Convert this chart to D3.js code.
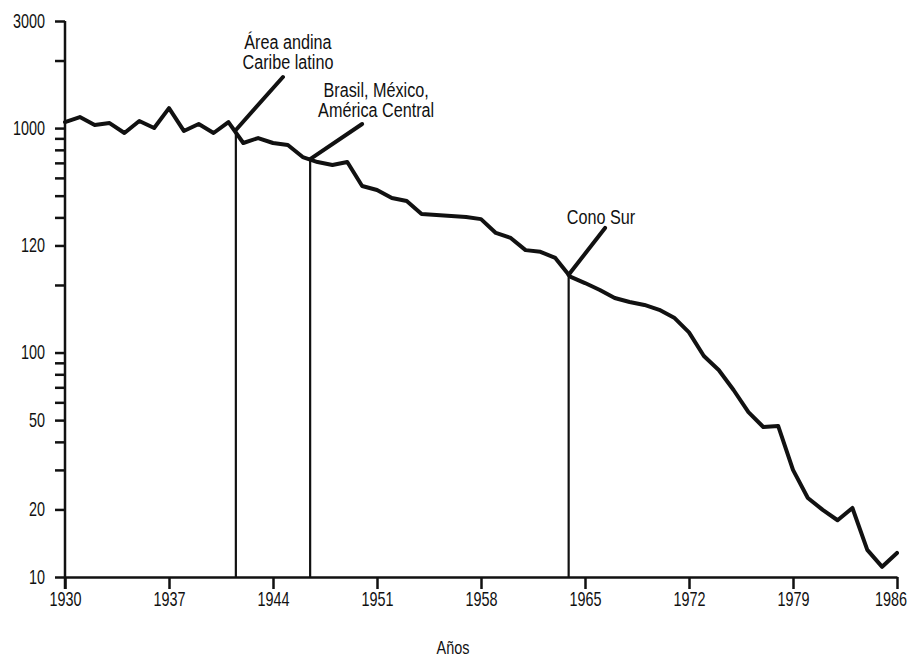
<!DOCTYPE html>
<html>

<head>
  <meta charset="utf8">
  <script src="https://d3js.org/d3.v7.min.js"></script>
  <style>
    body { margin: 0; background: #fff; }
    text {
      font-family: "Liberation Sans", Arial, sans-serif;
      fill: #111;
    }
  </style>
</head>

<body>
  <svg id="chart" width="909" height="661"></svg>

  <script>
    // years 1930..1986, one reading per year off the printed curve
    var years = d3.range(1930, 1987);
    var values = [
      1064, 1120, 1032, 1053, 951, 1075, 1001, 1228, 971, 1043,
      951, 1064, 858, 903, 858, 841, 743, 706, 685, 706,
      552, 530, 488, 473, 414, 410, 406, 402, 393, 341,
      324, 286, 281, 264, 218, 204, 190, 175, 168, 163,
      155, 143, 123, 96.5, 83.6, 68.1, 54.3, 46.6, 47.1, 30.0,
      22.5, 19.9, 17.9, 20.3, 13.2, 11.1, 12.8
    ];

    var xTicks = [1930, 1937, 1944, 1951, 1958, 1965, 1972, 1979, 1986];
    var yTicks = [10, 20, 50, 100, 300, 1000, 3000];
    var yTickLabels = ['10', '20', '50', '100', '120', '1000', '3000'];
    var yMinorTicks = [30, 40, 60, 70, 80, 90, 200, 400, 500, 600, 700, 800, 900, 2000];

    // annotations: year of the drop line, value where it meets the curve,
    // end of the leader line (year, value) and the label lines
    var noteYears = [1941.5, 1946.5, 1963.9];
    var noteValues = [981, 728, 222];
    var leaderYears = [1944.67, 1950.0, 1966.35];
    var leaderValues = [1689, 1043, 359];
    var noteLabels = [
      ['Área andina', 'Caribe latino'],
      ['Brasil,  México,', 'América Central'],
      ['Cono Sur']
    ];

    var chart = d3.select('#chart');
    var left = 65, right = 897, plotTop = 21, plotBottom = 577;

    var x = d3.scaleLinear().domain([1930, 1986]).range([left, right]);
    var y = d3.scaleLog().domain([10, 3000]).range([plotBottom, plotTop]);

    // the printed face is a condensed sans: squeeze each text around its anchor
    function squeeze(sel, sx) {
      sel.each(function () {
        var t = d3.select(this);
        var ax = +(t.attr('x') || (t.select('tspan').empty() ? 0 : t.select('tspan').attr('x')) || 0);
        t.attr('transform', 'translate(' + ax + ',0) scale(' + sx + ',1) translate(' + (-ax) + ',0)');
      });
    }

    // x axis
    var xAxis = chart.append('g')
      .attr('transform', 'translate(0,' + plotBottom + ')')
      .call(d3.axisBottom(x).tickValues(xTicks).tickFormat(d3.format('d'))
        .tickSize(12).tickSizeOuter(0).tickPadding(3));
    xAxis.select('.domain').attr('stroke', '#111').attr('stroke-width', 2.5);
    xAxis.selectAll('.tick line').attr('stroke', '#111').attr('stroke-width', 2.5);
    xAxis.selectAll('.tick text').attr('font-size', 20).attr('fill', '#111').call(squeeze, 0.72);
    // last label sits a little inside the page edge, as printed
    xAxis.selectAll('.tick text').filter((d) => d === 1986).attr('dx', -9);

    // y axis: all ticks, labels only on the main ones
    var labelOf = {};
    yTicks.forEach((v, i) => { labelOf[v] = yTickLabels[i]; });
    var yAxis = chart.append('g')
      .attr('transform', 'translate(' + left + ',0)')
      .call(d3.axisLeft(y).tickValues(yTicks.concat(yMinorTicks))
        .tickFormat((d) => labelOf[d] || '')
        .tickSize(10).tickSizeOuter(0).tickPadding(10));
    yAxis.select('.domain').remove();
    yAxis.selectAll('.tick line').attr('stroke', '#111').attr('stroke-width', 2.5);
    yAxis.selectAll('.tick text').attr('font-size', 20).attr('fill', '#111').call(squeeze, 0.72);
    yAxis.append('line')
      .attr('x1', 0).attr('x2', 0)
      .attr('y1', plotTop).attr('y2', plotBottom + 12)
      .attr('stroke', '#111').attr('stroke-width', 2.5);

    chart.append('text')
      .attr('x', (left + right) / 2 - 28)
      .attr('y', 654)
      .attr('text-anchor', 'middle')
      .attr('font-size', 19)
      .text('Años')
      .call(squeeze, 0.76);

    // drop lines from the curve to the base
    chart.selectAll('line.drop')
      .data(noteYears)
      .enter()
      .append('line')
      .attr('class', 'drop')
      .attr('x1', (d) => x(d)).attr('x2', (d) => x(d))
      .attr('y1', (d, i) => y(noteValues[i]))
      .attr('y2', plotBottom)
      .attr('stroke', '#111')
      .attr('stroke-width', 2.2);

    // the series
    var line = d3.line()
      .x((d, i) => x(years[i]))
      .y((d) => y(d));

    chart.append('path')
      .datum(values)
      .attr('d', line)
      .attr('fill', 'none')
      .attr('stroke', '#111')
      .attr('stroke-width', 4)
      .attr('stroke-linejoin', 'round')
      .attr('stroke-linecap', 'round');

    // leader lines and labels
    chart.selectAll('line.leader')
      .data(noteYears)
      .enter()
      .append('line')
      .attr('class', 'leader')
      .attr('x1', (d) => x(d))
      .attr('y1', (d, i) => y(noteValues[i]))
      .attr('x2', (d, i) => x(leaderYears[i]))
      .attr('y2', (d, i) => y(leaderValues[i]))
      .attr('stroke', '#111')
      .attr('stroke-width', 4)
      .attr('stroke-linecap', 'round');

    var labelShift = [[5, -28], [14, -27], [-4, -4]];
    noteLabels.forEach((lines, i) => {
      var t = chart.append('text')
        .attr('text-anchor', 'middle')
        .attr('font-size', 20);
      lines.forEach((s, j) => {
        t.append('tspan')
          .attr('x', x(leaderYears[i]) + labelShift[i][0])
          .attr('y', y(leaderValues[i]) + labelShift[i][1] + j * 20)
          .text(s);
      });
      t.call(squeeze, 0.81);
    });
  </script>
</body>

</html>
